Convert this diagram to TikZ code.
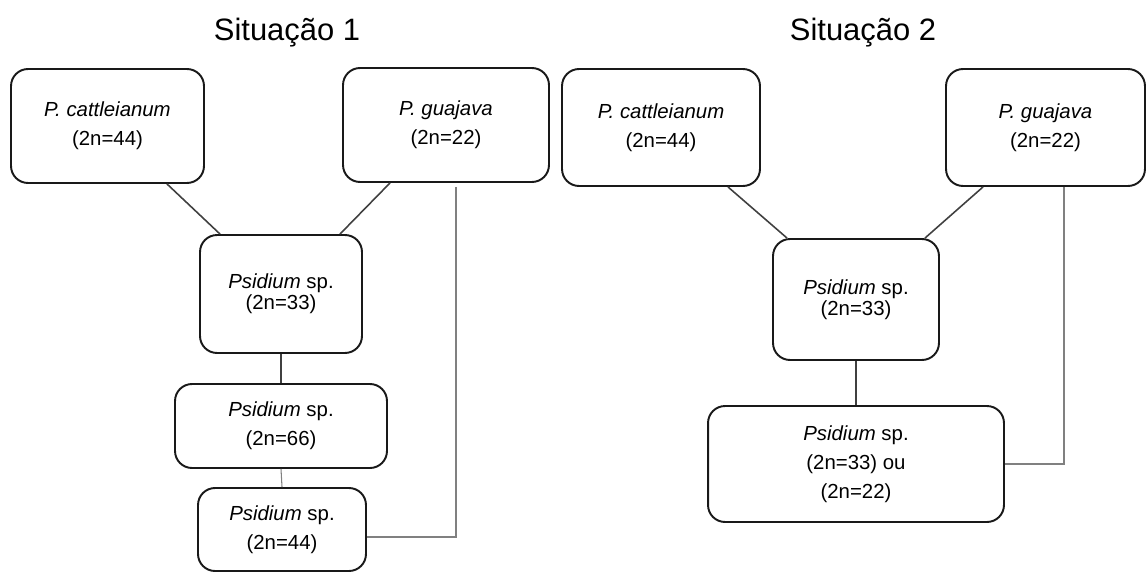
\documentclass[tikz,border=0pt]{standalone}
\usepackage{fontspec}
\setmainfont{Liberation Sans}
\usepackage{tikz}
\usetikzlibrary{calc}
\tikzstyle{title}=[font=\fontsize{17.6}{20}\selectfont]
\tikzstyle{taxon}=[draw=black!90, line width=1.1pt, rounded corners=0.34cm, align=center, inner sep=0pt, font=\fontsize{11.6}{16.4}\selectfont]
\tikzstyle{tight}=[font=\fontsize{11.6}{12.2}\selectfont]
\tikzstyle{cross}=[draw=black!75, line width=0.9pt]
\tikzstyle{back}=[draw=black!50, line width=0.6pt]

\begin{document}
\begin{tikzpicture}[x=0.02cm, y=-0.02cm]
			\useasboundingbox (0,0) rectangle (1146,572);
			% situacao 1
			\node[title] (t1) at (287,33) {Situação 1};
			\node[taxon, minimum width=3.86cm, minimum height=2.28cm] (c1) at (107.5,126) {\textit{P. cattleianum}\\(2n=44)};
			\node[taxon, minimum width=4.12cm, minimum height=2.28cm] (g1) at (446,125) {\textit{P. guajava}\\(2n=22)};
			\node[taxon, tight, minimum width=3.24cm, minimum height=2.36cm] (p1) at (281,294) {\textit{Psidium} sp.\\(2n=33)};
			\node[taxon, minimum width=4.24cm, minimum height=1.68cm] (p2) at (281,426) {\textit{Psidium} sp.\\(2n=66)};
			\node[taxon, minimum width=3.36cm, minimum height=1.66cm] (p3) at (282,529.5) {\textit{Psidium} sp.\\(2n=44)};
			\draw[cross] ($(c1.south)+(59.5,0)$) -- ($(p1.north)+(-61,0)$);
			\draw[cross] ($(g1.south)+(-56,0)$) -- ($(p1.north)+(59,0)$);
			\draw[cross] (p1.south) -- (p2.north);
			\draw[back] (p2.south) -- (p3.north);
			\draw[back] ($(g1.south)+(10,4)$) |- ($(p3.east)+(0,7.5)$);
			% situacao 2
			\node[title] (t2) at (863,33) {Situação 2};
			\node[taxon, minimum width=3.96cm, minimum height=2.34cm] (c2) at (661,127.5) {\textit{P. cattleianum}\\(2n=44)};
			\node[taxon, minimum width=3.98cm, minimum height=2.34cm] (g2) at (1045.5,127.5) {\textit{P. guajava}\\(2n=22)};
			\node[taxon, tight, minimum width=3.32cm, minimum height=2.42cm] (q1) at (856,299.5) {\textit{Psidium} sp.\\(2n=33)};
			\node[taxon, minimum width=5.92cm, minimum height=2.32cm] (q2) at (856,464) {\textit{Psidium} sp.\\(2n=33) ou\\(2n=22)};
			\draw[cross] ($(c2.south)+(67,0)$) -- ($(q1.north)+(-69,0)$);
			\draw[cross] ($(g2.south)+(-62.5,0)$) -- ($(q1.north)+(69,0)$);
			\draw[cross] (q1.south) -- (q2.north);
			\draw[back] ($(g2.south)+(18.5,0)$) |- (q2.east);
		\end{tikzpicture}
\end{document}
